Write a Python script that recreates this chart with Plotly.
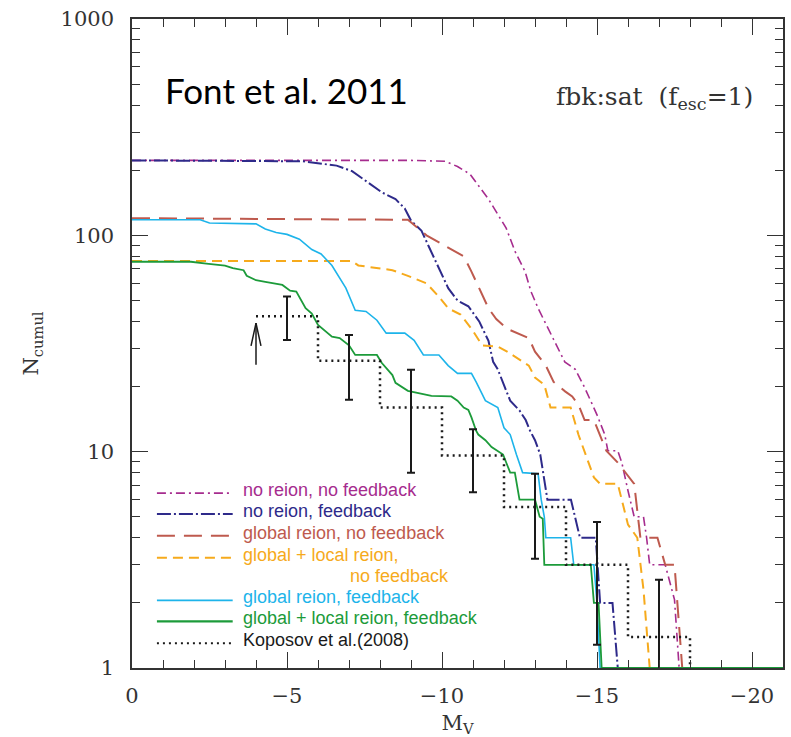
import math
import plotly.graph_objects as go

# ---------------- data ----------------
x_noreion_nofb = [0, -9.0, -10.1, -10.5, -10.9, -11.5, -12.07, -12.36, -12.68, -12.87, -13.1, -13.4, -13.6,
                  -13.96, -14.3, -14.6, -15.0, -15.25, -15.35, -15.67, -15.8, -16.0, -16.2, -16.5, -16.6,
                  -16.7, -17.2, -17.5, -17.65, -21]
y_noreion_nofb = [222, 222, 220, 208, 192, 147, 108, 84, 68, 55, 46, 38, 33,
                  26, 24, 19.8, 14.8, 12, 10.1, 10.1, 8.9, 6.6, 5.0, 5.0, 4.0,
                  3.0, 3.0, 2.07, 1, 1]

x_noreion_fb = [0, -5.5, -6.6, -7.1, -7.6, -8.06, -8.5, -8.8, -9.0, -9.34, -9.57, -9.9, -10.2, -10.5,
                -10.85, -11.2, -11.5, -11.65, -11.8, -12.0, -12.2, -12.5, -12.7, -12.84, -13.0, -13.17,
                -13.26, -13.4, -14.16, -14.3, -14.45, -14.96, -15.1, -15.5, -15.67, -21]
y_noreion_fb = [222, 220, 210, 198, 176, 158, 147, 133, 117, 105, 89, 70, 57, 50,
                47, 40, 32.5, 26, 24, 20.3, 17.2, 15.5, 14, 12.5, 11.3, 9.7,
                7.9, 6.0, 6.0, 5.0, 4.0, 4.0, 2.0, 2.0, 1, 1]

x_global_nofb = [0, -8.9, -9.5, -9.9, -10.4, -10.7, -10.95, -11.3, -11.5, -11.75, -12.1, -12.8, -13.0,
                 -13.35, -13.6, -13.97, -14.2, -14.4, -14.6, -14.9, -15.1, -15.3, -15.67, -16.2, -16.4,
                 -16.95, -17.2, -17.5, -17.75, -21]
y_global_nofb = [120, 118, 100, 93, 85, 80, 68, 53, 46, 41, 37, 33.5, 29,
                 25, 21, 19, 18, 16.5, 14, 14, 12, 10.1, 8.9, 7.1, 4.0,
                 4.0, 3.0, 3.0, 1, 1]

x_gl_local_nofb = [0, -7.1, -7.3, -8.4, -8.9, -9.5, -9.9, -10.2, -10.6, -10.95, -11.3, -11.8, -12.1,
                   -12.45, -12.8, -13.0, -13.3, -13.5, -14.15, -14.4, -14.7, -14.9, -15.1, -15.67,
                   -16.0, -16.3, -16.5, -16.7, -21]
y_gl_local_nofb = [76, 76, 72.6, 69, 65, 60, 52, 46, 43, 37, 31, 30.6, 29,
                   27, 25, 22, 20.4, 16, 16, 12, 9.1, 7.6, 7.1, 7.1,
                   4.6, 4.0, 2.3, 1, 1]

x_global_fb = [0, -2.2, -2.5, -4.0, -4.3, -4.65, -5.0, -5.4, -5.8, -6.1, -6.45, -6.9, -7.2, -7.55,
               -7.9, -8.2, -8.8, -9.1, -9.4, -9.9, -10.2, -10.5, -10.95, -11.1, -11.4, -11.8, -12.0,
               -12.2, -12.4, -12.6, -13.1, -13.2, -13.3, -13.35, -14.15, -14.25, -14.9, -15.0, -15.1, -21]
y_global_fb = [118, 118, 114, 113, 107, 103, 101, 96, 86, 82, 72.5, 57, 45, 44.5,
               40.5, 35.3, 35.3, 32.7, 28, 28, 25, 23, 23, 21, 17.2, 16, 12.9,
               12, 9.7, 8.0, 7.9, 6, 5, 4.0, 4.0, 3.0, 3.0, 2.0, 1, 1]

x_gl_local_fb = [0, -1.9, -2.4, -3.0, -3.25, -3.6, -3.7, -4.0, -4.3, -4.85, -5.1, -5.3, -5.6, -5.8,
                 -6.0, -6.45, -6.7, -7.0, -7.2, -7.9, -8.06, -8.4, -8.5, -8.67, -8.9, -9.66, -10.3,
                 -10.5, -10.7, -10.85, -10.95, -11.1, -11.17, -11.4, -11.6, -11.97, -12.2, -12.35,
                 -12.5, -13.0, -13.15, -13.25, -13.3, -14.8, -14.9, -15.05, -15.15, -21]
y_gl_local_fb = [75.5, 75.5, 74, 72.5, 70.5, 69, 65, 62, 61, 59, 55.5, 55, 46, 43.5,
                 38.5, 34, 33.5, 31, 28, 28, 25.7, 22.6, 20.8, 20.1, 19.1, 18.1, 18,
                 17.2, 16, 15.6, 14.4, 12.5, 12, 11.3, 10.5, 9.7, 8.0, 8.0,
                 6.0, 6.0, 5.0, 4.9, 3.0, 3.0, 2.0, 2.0, 1, 1]

# Koposov et al. (2008) binned histogram (bin left edges) and error bars at bin centres
kop_edges = [-4, -6, -8, -10, -12, -14, -16, -18]
kop_values = [42.3, 26.3, 16, 9.6, 5.55, 3.0, 1.39, 1]
err_x = [-5, -7, -9, -11, -13, -15, -17]
err_y = [42.3, 26.3, 16, 9.6, 5.55, 3.0, 1.39]
err_hi = [52.2, 34.6, 23.9, 12.7, 7.9, 4.73, 2.56]
err_lo = [32.8, 17.4, 8.0, 6.5, 3.2, 1.28, 0.9]

# lower-limit arrow
arrow_x = -4
arrow_from = 25.2
arrow_to = 39.3

x_ticks = [0, -5, -10, -15, -20]
y_ticks = [1, 10, 100, 1000]
y_ticktext = ["1", "10", "100", "1000"]
y_minor = [m * 10 ** d for d in range(3) for m in range(2, 10)]

# ---------------- styles ----------------
C_MAG = "#A62C8E"
C_NAVY = "#2E2A8A"
C_BROWN = "#BE5A4E"
C_ORANGE = "#F6AA1C"
C_CYAN = "#1DB4EA"
C_GREEN = "#1C9B3A"
C_BLACK = "#1a1a1a"

series = [
    ("no reion, no feedback", x_noreion_nofb, y_noreion_nofb, C_MAG, 1.6, "9px,4px,2px,4px"),
    ("no reion, feedback", x_noreion_fb, y_noreion_fb, C_NAVY, 2.0, "14px,3px,2px,3px"),
    ("global reion, no feedback", x_global_nofb, y_global_nofb, C_BROWN, 2.0, "18px,9px"),
    ("global + local reion,", x_gl_local_nofb, y_gl_local_nofb, C_ORANGE, 2.0, "10px,6px"),
    ("global reion, feedback", x_global_fb, y_global_fb, C_CYAN, 1.6, "solid"),
    ("global + local reion, feedback", x_gl_local_fb, y_gl_local_fb, C_GREEN, 1.8, "solid"),
]

fig = go.Figure()
for name, xs, ys, col, w, dash in series:
    fig.add_trace(go.Scatter(x=xs, y=ys, mode="lines", name=name,
                             line=dict(color=col, width=w, dash=dash)))

fig.add_trace(go.Scatter(x=kop_edges, y=kop_values, mode="lines", name="Koposov et al.(2008)",
                         line=dict(color=C_BLACK, width=2.5, dash="2px,4px", shape="hv")))

fig.add_trace(go.Scatter(
    x=err_x, y=err_y, mode="markers",
    marker=dict(size=1, color="rgba(0,0,0,0)"),
    error_y=dict(type="data", symmetric=False,
                 array=[h - v for h, v in zip(err_hi, err_y)],
                 arrayminus=[v - l for l, v in zip(err_lo, err_y)],
                 color=C_BLACK, thickness=2, width=4),
    showlegend=False))

# arrow (shaft + two barbs) as one line trace; barb size derived from the axis scale
barb_dx = 0.16          # ~5 px in x units
barb_dlog = 0.105       # ~23 px in decades
barb_y = 10 ** (math.log10(arrow_to) - barb_dlog)
fig.add_trace(go.Scatter(
    x=[arrow_x, arrow_x, None, arrow_x - barb_dx, arrow_x, arrow_x + barb_dx],
    y=[arrow_from, arrow_to, None, barb_y, arrow_to, barb_y],
    mode="lines", line=dict(color=C_BLACK, width=1.5), showlegend=False, hoverinfo="skip"))

# ---------------- custom legend ----------------
L, T, PW, PH = 132, 19, 653, 653
def px2paper(px, py):
    return (px - L) / PW, (T + PH - py) / PH

legend_rows = [
    ("no reion, no feedback", C_MAG, 1.6, "9px,4px,2px,4px", 493),
    ("no reion, feedback", C_NAVY, 2.0, "14px,3px,2px,3px", 514),
    ("global reion, no feedback", C_BROWN, 2.0, "18px,9px", 536),
    ("global + local reion,", C_ORANGE, 2.0, "10px,6px", 558),
    ("global reion, feedback", C_CYAN, 1.6, "solid", 601),
    ("global + local reion, feedback", C_GREEN, 2.2, "solid", 622),
    ("Koposov et al.(2008)", C_BLACK, 2.0, "2px,4px", 644),
]
leg_font = dict(family="Liberation Sans, Arial, sans-serif", size=18)
for text, col, w, dash, yc in legend_rows:
    x0, y0 = px2paper(157, yc + 3)
    x1, _ = px2paper(233, yc + 3)
    fig.add_shape(type="line", xref="paper", yref="paper", x0=x0, x1=x1, y0=y0, y1=y0,
                  line=dict(color=col, width=w, dash=dash))
    tx, ty = px2paper(241, yc)
    fig.add_annotation(xref="paper", yref="paper", x=tx, y=ty, text=text, showarrow=False,
                       xanchor="left", yanchor="middle", font=dict(color=col, **leg_font))
tx, ty = px2paper(349, 579)
fig.add_annotation(xref="paper", yref="paper", x=tx, y=ty, text="no feedback", showarrow=False,
                   xanchor="left", yanchor="middle", font=dict(color=C_ORANGE, **leg_font))

# titles inside the plot
tx, ty = px2paper(163, 90)
fig.add_annotation(xref="paper", yref="paper", x=tx, y=ty, text="Font et al. 2011", showarrow=False,
                   xanchor="left", yanchor="middle",
                   font=dict(family="Lato, Open Sans, sans-serif", size=35, color="black"))
tx, ty = px2paper(757, 98)
fig.add_annotation(xref="paper", yref="paper", x=tx, y=ty, text="fbk:sat  (f<sub>esc</sub>=1)",
                   showarrow=False, xanchor="right", yanchor="middle",
                   font=dict(family="DejaVu Serif, serif", size=25, color="#333"))

axis_common = dict(showline=True, linecolor="#333", linewidth=1.5, mirror="allticks",
                   ticks="inside", tickcolor="#333", tickwidth=1.3, showgrid=False, zeroline=False,
                   tickfont=dict(family="DejaVu Serif, serif", size=21, color="#333"))

fig.update_xaxes(range=[0, -21], tickvals=x_ticks, ticklen=16,
                 minor=dict(dtick=1, ticks="inside", ticklen=8, tickcolor="#333", tickwidth=1.3, showgrid=False),
                 title=dict(text="M<sub>V</sub>", font=dict(family="DejaVu Serif, serif", size=21, color="#333"),
                            standoff=8),
                 ticklabelstandoff=8, **axis_common)
fig.update_yaxes(type="log", range=[0, 3], tickvals=y_ticks, ticktext=y_ticktext, ticklen=16,
                 minor=dict(tickvals=y_minor, ticks="inside", ticklen=8, tickcolor="#333", tickwidth=1.3, showgrid=False),
                 title=dict(text="N<sub>cumul</sub>", font=dict(family="DejaVu Serif, serif", size=21, color="#333"),
                            standoff=16),
                 ticklabelstandoff=12, **axis_common)

fig.update_layout(width=791, height=737, margin=dict(l=132, r=6, t=19, b=65),
                  plot_bgcolor="white", paper_bgcolor="white", showlegend=False)

fig.write_html("out.html")
